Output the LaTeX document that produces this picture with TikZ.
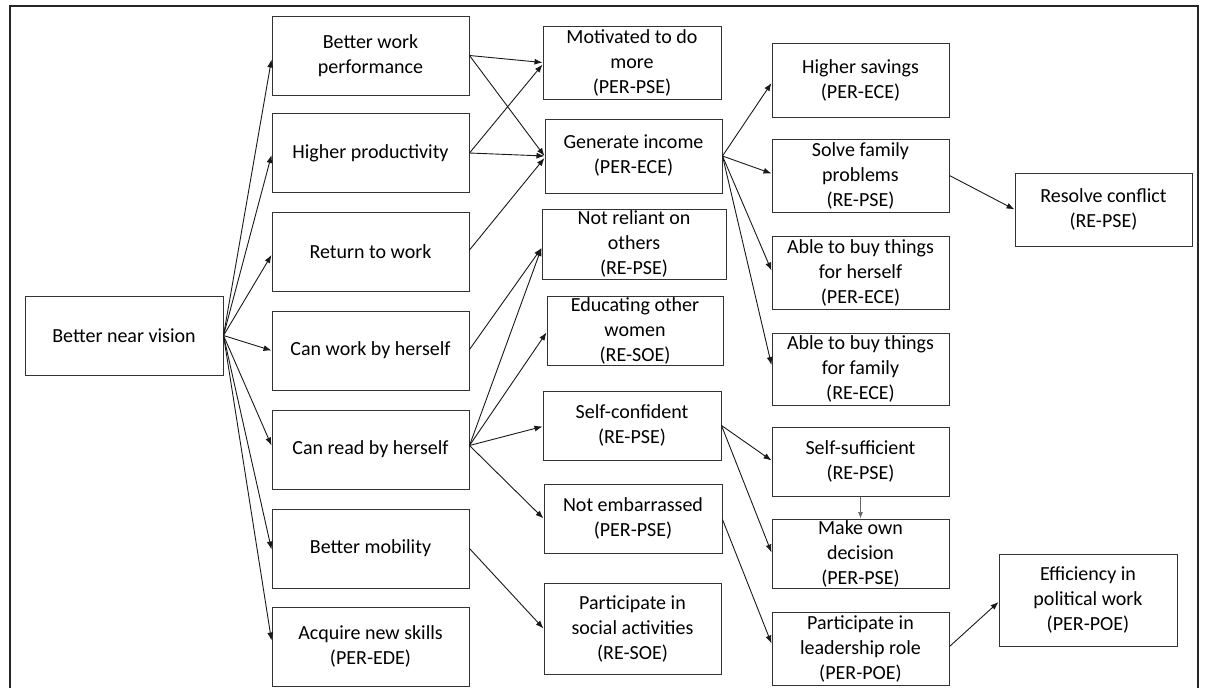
\documentclass[tikz,border=0pt]{standalone}
\usepackage{fontspec}
\setmainfont{Carlito}
\usetikzlibrary{arrows.meta,calc}
\begin{document}
\begin{tikzpicture}[x=1pt,y=-1pt,
  bx/.style={draw=black!80,line width=1pt,inner sep=0pt,align=center,
    font=\fontsize{20}{25}\selectfont,text=black},
  arr/.style={draw=black!90,line width=0.9pt,-{Latex[length=8pt,width=6pt]}},
  thinarr/.style={draw=black!60,line width=0.7pt,-{Latex[length=6.5pt,width=5pt]}},
]
\useasboundingbox (0,0) rectangle (1208,688);
\draw[line width=1.3pt,black!85] (10,688) -- (10,6) -- (1198,6) -- (1198,688);

% column 1
\node[bx,minimum width=198pt,minimum height=79pt] (bnv) at (124,335.5) {Better near vision};

% column 2
\tikzset{c2/.style={bx,minimum width=197pt,minimum height=79pt}}
\node[c2] (bwp) at (370.5,55.5) {Better work\\performance};
\node[c2] (hp)  at (370.5,153) {Higher productivity};
\node[c2] (rtw) at (370.5,252) {Return to work};
\node[c2] (cwh) at (370.5,350.5) {Can work by herself};
\node[c2] (crh) at (370.5,449.5) {Can read by herself};
\node[c2] (bm)  at (370.5,548.5) {Better mobility};
\node[c2] (ans) at (370.5,646.5) {Acquire new skills\\(PER-EDE)};

% column 3
\node[bx,minimum width=178pt,minimum height=73pt] (mot) at (632,62.5) {Motivated to do\\more\\(PER-PSE)};
\node[bx,minimum width=177pt,minimum height=74pt] (gi)  at (633.5,156) {Generate income\\(PER-ECE)};
\node[bx,minimum width=184pt,minimum height=70pt] (nro) at (634,244) {Not reliant on\\others\\(RE-PSE)};
\node[bx,minimum width=176pt,minimum height=69pt] (eow) at (635,330.5) {Educating other\\women\\(RE-SOE)};
\node[bx,minimum width=178pt,minimum height=69pt] (sc)  at (632,425.5) {Self-confident\\(RE-PSE)};
\node[bx,minimum width=178pt,minimum height=69pt] (ne)  at (633,518.5) {Not embarrassed\\(PER-PSE)};
\node[bx,minimum width=177pt,minimum height=91pt] (psa) at (632.5,628.5) {Participate in\\social activities\\(RE-SOE)};

% column 4
\tikzset{c4/.style={bx,minimum width=177pt}}
\node[c4,minimum height=74pt] (hs)  at (860.5,80) {Higher savings\\(PER-ECE)};
\node[c4,minimum height=73pt] (sfp) at (860.5,175.5) {Solve family\\problems\\(RE-PSE)};
\node[c4,minimum height=73pt] (abh) at (860.5,272.5) {Able to buy things\\for herself\\(PER-ECE)};
\node[c4,minimum height=72pt] (abf) at (860.5,369) {Able to buy things\\for family\\(RE-ECE)};
\node[c4,minimum height=69pt] (ss)  at (860.5,461.5) {Self-sufficient\\(RE-PSE)};
\node[c4,minimum height=69pt] (mod) at (860.5,553.5) {Make own\\decision\\(PER-PSE)};
\node[c4,minimum height=73pt] (plr) at (860.5,648.5) {Participate in\\leadership role\\(PER-POE)};

% column 5
\node[bx,minimum width=177pt,minimum height=73pt] (rc)  at (1103.5,209.5) {Resolve conflict\\(RE-PSE)};
\node[bx,minimum width=178pt,minimum height=92pt] (epw) at (1088,600) {Efficiency in\\political work\\(PER-POE)};

% connectors from better near vision
\draw[arr] (bnv.east) -- ($(bwp.west)+(0,4)$);
\draw[arr] (bnv.east) -- ($(hp.west)+(0,2)$);
\draw[arr] (bnv.east) -- ($(rtw.west)+(0,3)$);
\draw[arr] (bnv.east) -- (cwh.west);
\draw[arr] (bnv.east) -- ($(crh.west)+(0,-4)$);
\draw[arr] (bnv.east) -- ($(bm.west)+(0,1)$);
\draw[arr] (bnv.east) -- ($(ans.west)+(0,-6)$);

% column 2 to column 3
\draw[arr] (bwp.east) -- (mot.west);
\draw[arr] (bwp.east) -- (gi.west);
\draw[arr] (hp.east) -- ($(mot.west)+(0,2)$);
\draw[arr] (hp.east) -- (gi.west);
\draw[arr] ($(rtw.east)+(0,-2)$) -- ($(gi.west)+(0,2)$);
\draw[arr] ($(cwh.east)+(0,-1)$) -- ($(nro.west)+(0,4)$);
\draw[arr] ($(crh.east)+(0,-4)$) -- ($(nro.west)+(0,4)$);
\draw[arr] ($(crh.east)+(0,-4)$) -- ($(eow.west)+(0,2)$);
\draw[arr] ($(crh.east)+(0,-4)$) -- ($(sc.west)+(0,1)$);
\draw[arr] ($(crh.east)+(0,-4)$) -- (ne.west);
\draw[arr] (bm.east) -- (psa.west);

% column 3 to column 4
\draw[arr] (gi.east) -- ($(hs.west)+(0,3)$);
\draw[arr] (gi.east) -- ($(sfp.west)+(0,-2)$);
\draw[arr] (gi.east) -- ($(abh.west)+(0,-2)$);
\draw[arr] (gi.east) -- ($(abf.west)+(0,-4)$);
\draw[arr] (sc.east) -- ($(ss.west)+(0,-1)$);
\draw[arr] (sc.east) -- ($(mod.west)+(0,-1)$);
\draw[thinarr] (ss.south) -- (mod.north);
\draw[arr] ($(ne.east)+(0,1)$) -- ($(plr.west)+(0,-5)$);

% column 4 to column 5
\draw[arr] (sfp.east) -- (rc.west);
\draw[arr] ($(plr.east)+(0,-2)$) -- ($(epw.west)+(0,2)$);
\end{tikzpicture}
\end{document}
